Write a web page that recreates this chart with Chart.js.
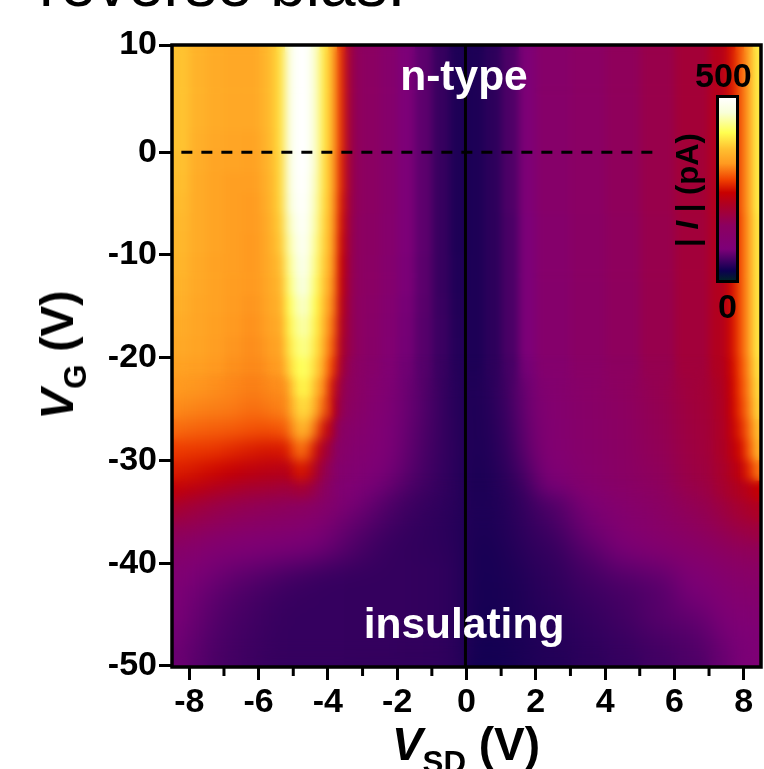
<!DOCTYPE html>
<html>
<head>
<meta charset="utf-8">
<title>reverse bias</title>
<script src="https://cdn.jsdelivr.net/npm/chart.js@4"></script>
<style>
  html, body { margin: 0; padding: 0; background: #fff; overflow: hidden; }
  #wrap { position: relative; width: 764px; height: 769px; overflow: hidden; font-family: "Liberation Sans", Arial, sans-serif; }
  canvas { position: absolute; left: 0; top: 0; }
  .txt { position: absolute; white-space: nowrap; font-weight: bold; color: #000; line-height: 1; }
  .white { color: #fff; font-size: 42.5px; transform: translateX(-50%); }
  .rot { transform: translate(-50%, -50%) rotate(-90deg); }
  sub { font-size: 0.68em; vertical-align: baseline; position: relative; top: 0.42em; font-style: normal; }
  #cbar { position: absolute; left: 716px; top: 95px; width: 17px; height: 182px; border: 3px solid #000; }
</style>
</head>
<body>
<div id="wrap">
  <canvas id="map" width="764" height="769"></canvas>
  <div class="txt" style="left:39px; top:-48px; font-size:64px; font-weight:normal;">reverse bias.</div>
  <div class="txt white" style="left:464px; top:55px;">n-type</div>
  <div class="txt white" style="left:464px; top:603px;">insulating</div>
  <div class="txt" style="left:695px; top:58px; font-size:34px;">500</div>
  <div class="txt" style="left:718px; top:289px; font-size:34px;">0</div>
  <div class="txt rot" style="left:687px; top:190px; font-size:31px;">| <i>I</i> | (pA)</div>
  <div id="cbar"></div>
  <div class="txt rot" style="left:57px; top:355px; font-size:46px;"><i>V</i><sub>G</sub> (V)</div>
  <div class="txt" style="left:466px; top:721px; font-size:46px; transform:translateX(-50%);"><i>V</i><sub>SD</sub> (V)</div>
</div>
<script>
const xMin = -8.5, xMax = 8.5;
const yMin = -50.1, yMax = 10.43;

const xTicks = [-8, -6, -4, -2, 0, 2, 4, 6, 8];
const xMinorTicks = [-7, -5, -3, -1, 1, 3, 5, 7];
const yTicks = [10, 0, -10, -20, -30, -40, -50];

// column edges in V, finer around the bright peak and the right edge
const vsdEdges = [-8.5, -8, -7.5, -7, -6.5, -6, -5.75, -5.5, -5.25, -5, -4.75, -4.5, -4.25, -4, -3.75, -3.5, -3.25, -3,
  -2.5, -2, -1.5, -1, -0.5, 0, 0.5, 1, 1.5, 2, 3, 4, 5, 6, 7, 7.5, 7.75, 8, 8.25, 8.5];

// row centres in V
const vgRows = [11, 9, 7, 5, 3, 1, -1, -3, -5, -7, -9, -11, -13, -15, -17, -19, -21, -23, -25, -27, -29, -31, -33, -35,
  -37, -39, -41, -43, -45, -47, -49];

// |I| in pA, one row per vgRows entry, one value per column
const current = [
  [362,345,338,335,335,345,360, 385,470,500,500,455,390,340,265, 180,152,145,120,85,68,48,34, 34,42,60,90,125,140,155,170,188,215,250,285,325,395],
  [362,345,338,335,335,345,360, 385,470,500,500,455,390,340,265, 180,152,145,120,85,68,48,34, 34,42,60,90,125,140,155,170,188,215,250,285,325,395],
  [362,345,338,335,335,345,360, 385,470,500,500,455,390,340,265, 180,152,145,120,85,68,48,34, 34,42,60,90,125,140,155,170,188,215,250,285,325,395],
  [362,345,338,335,335,345,360, 385,470,500,500,455,390,340,265, 180,152,145,120,85,68,48,34, 34,42,60,90,125,140,155,170,188,215,250,285,325,395],
  [362,345,338,335,335,345,360, 385,470,500,500,455,390,340,265, 180,152,145,120,85,68,48,34, 34,42,60,90,125,140,155,170,188,215,250,285,325,395],
  [362,342,335,332,330,342,358, 385,470,500,500,455,390,340,265, 180,152,145,120,85,68,48,34, 34,42,60,90,125,140,155,170,188,215,250,285,325,395],
  [360,340,332,330,328,340,355, 380,468,500,500,455,385,335,260, 178,152,145,120,85,68,48,34, 34,42,60,90,125,140,155,170,188,215,250,285,325,395],
  [358,338,330,325,325,338,352, 380,465,498,498,450,385,335,260, 178,152,145,120,85,68,48,34, 34,42,60,90,125,140,155,170,188,215,250,285,325,395],
  [355,338,330,325,322,335,350, 378,460,495,495,445,382,332,255, 175,152,145,120,85,68,48,34, 34,42,60,90,125,140,155,170,188,215,250,285,325,395],
  [352,338,330,325,322,332,348, 372,450,490,490,440,378,328,250, 172,150,142,118,85,68,48,34, 34,42,58,85,120,138,153,168,186,212,245,280,320,390],
  [350,338,330,325,320,330,345, 368,440,482,485,432,375,325,245, 170,150,142,118,85,68,48,34, 34,42,58,85,120,138,153,168,186,212,245,280,320,390],
  [348,336,328,325,320,330,342, 360,430,472,476,425,370,320,240, 168,150,140,115,84,67,48,35, 34,42,58,85,120,138,153,168,186,212,245,280,320,390],
  [345,335,328,323,320,328,340, 352,420,460,465,415,365,315,235, 166,150,140,115,84,67,48,35, 34,42,58,85,120,138,153,168,186,212,245,280,320,390],
  [342,333,328,322,318,326,338, 345,408,448,452,405,358,308,225, 165,148,135,110,82,66,49,36, 34,42,58,85,120,138,153,168,186,212,245,280,320,390],
  [338,332,326,320,316,322,334, 338,398,435,440,398,350,298,215, 165,148,132,108,81,65,50,37, 34,42,58,85,120,138,153,168,186,212,245,280,320,390],
  [335,330,324,318,314,318,328, 330,388,422,428,390,340,288,205, 165,148,130,105,80,65,50,38, 34,42,58,85,120,138,153,168,186,212,245,280,320,390],
  [328,325,320,315,312,314,322, 322,375,408,412,378,325,272,195, 155,140,125,100,78,64,49,38, 34,42,56,82,116,135,150,165,185,210,242,275,315,385],
  [320,318,314,310,306,308,314, 312,350,392,398,358,310,255,185, 150,132,118,98,77,63,48,38, 34,41,54,80,113,132,149,164,184,209,240,272,310,380],
  [312,308,306,304,298,300,306, 305,330,375,385,338,295,238,175, 145,125,112,95,76,62,48,38, 33,40,52,78,110,130,148,162,182,208,238,268,305,375],
  [296,292,290,288,284,282,284, 285,305,345,350,300,245,195,150, 132,115,105,90,74,60,48,39, 33,39,50,75,108,128,145,160,180,206,232,258,295,360],
  [272,270,268,262,256,252,252, 250,268,300,295,245,195,160,135, 122,108,100,88,72,58,48,40, 33,38,48,72,105,125,143,158,178,205,225,245,285,345],
  [256,250,244,236,228,222,222, 215,225,255,250,205,165,140,120, 110,100,92,82,68,56,47,40, 32,36,45,62,95,120,138,155,175,200,215,228,260,300],
  [232,224,212,202,194,190,190, 182,185,195,190,170,148,125,108, 98,90,82,72,60,52,46,40, 32,35,42,52,80,112,132,150,170,195,205,212,222,240],
  [195,182,172,165,160,156,155, 153,150,148,145,135,125,112,102, 92,85,72,60,52,46,44,40, 32,34,40,47,60,90,118,140,160,180,190,196,205,212],
  [155,135,122,112,105,103,100, 100,98,95,92,90,85,78,72, 66,60,54,48,45,43,42,40, 31,33,38,44,50,75,98,120,140,160,168,172,176,180],
  [122,105,95,92,88,85,84, 82,82,82,80,78,74,70,66, 62,58,52,47,46,45,44,42, 30,32,36,42,46,62,82,102,120,140,148,152,155,155],
  [100,88,78,72,67,64,62, 58,56,54,52,50,48,47,47, 46,46,46,46,46,45,44,42, 30,32,34,38,44,55,65,72,95,115,125,130,135,135],
  [90,76,68,62,57,54,52, 50,49,48,48,47,47,47,47, 46,46,46,46,46,45,44,42, 29,31,33,36,42,50,56,62,82,100,108,112,118,120],
  [84,72,64,58,54,51,49, 48,47,47,47,47,47,47,47, 46,46,46,46,46,45,44,42, 29,30,32,35,40,46,54,66,72,88,95,100,104,105],
  [80,68,60,55,52,50,48, 47,47,47,47,47,47,47,47, 46,46,46,46,45,45,44,42, 28,30,32,34,38,44,50,58,64,78,84,88,90,92],
  [76,65,58,54,51,49,48, 47,47,47,47,47,47,47,47, 46,46,46,46,45,45,44,42, 28,29,31,34,37,42,47,53,60,72,78,84,88,92]
];

// colour scale
const scaleValues = [0, 25, 85, 150, 210, 240, 275, 320, 360, 405, 460, 500];
const scaleColors = ['#00202a', '#0c0050', '#7d0078', '#8c0060', '#b00020', '#c80000', '#f04000', '#ff9a20', '#ffc030', '#ffff50', '#f8ffd8', '#ffffff'];

function hexToRgb(h) {
  return [1, 3, 5].map(i => parseInt(h.substr(i, 2), 16));
}

function colorFor(v) {
  let i = 0;
  while (i < scaleValues.length - 2 && v > scaleValues[i + 1]) i++;
  const t = Math.min(1, Math.max(0, (v - scaleValues[i]) / (scaleValues[i + 1] - scaleValues[i])));
  const a = hexToRgb(scaleColors[i]), b = hexToRgb(scaleColors[i + 1]);
  return 'rgb(' + a.map((c, k) => Math.round(c + (b[k] - c) * t)).join(',') + ')';
}

// one bar dataset per column, each bar a floating range along VSD
const cellSets = vsdEdges.slice(0, -1).map((lo, c) => ({
  type: 'bar',
  indexAxis: 'y',
  order: 1,
  data: vgRows.map(v => ({ x: [lo, vsdEdges[c + 1]], y: v })),
  backgroundColor: current.map(row => colorFor(row[c])),
  borderWidth: 0,
  barPercentage: 1,
  categoryPercentage: 1,
  grouped: false
}));

const lineSets = [
  {
    type: 'line', order: 0,
    data: [{ x: -8.23, y: 0 }, { x: 5.45, y: 0 }],
    borderColor: '#000', borderWidth: 3, borderDash: [11, 9], pointRadius: 0
  },
  {
    type: 'line', order: 0,
    data: [{ x: -0.03, y: yMin }, { x: -0.03, y: yMax }],
    borderColor: '#000', borderWidth: 3, pointRadius: 0
  }
];

// the reference is a smooth contour map, so soften the cell steps just before the lines go on.
// each pass is [vsd from, vsd to, vg top, vg bottom, blur px]; the lower half has the coarsest steps
const blurPasses = [
  [xMin, xMax, yMax, yMin, 4],
  [-5.6, -3.9, -24, -38, 4],
  [-8.5, -5.3, -22, -38, 7],
  [-3.6, 7.2, -22, -38, 10],
  [xMin, xMax, -34, yMin, 12]
];

let smoothed = false;
const smoothPlugin = {
  id: 'smooth',
  beforeDatasetsDraw() { smoothed = false; },
  beforeDatasetDraw(chart, args) {
    if (smoothed || args.meta.type !== 'line') return;
    smoothed = true;
    const a = chart.chartArea, ctx = chart.ctx;
    blurPasses.forEach(([x0, x1, y0, y1, px]) => {
      const l = chart.scales.x.getPixelForValue(x0), r = chart.scales.x.getPixelForValue(x1);
      const t = chart.scales.y.getPixelForValue(y0), b = chart.scales.y.getPixelForValue(y1);
      ctx.save();
      ctx.beginPath();
      ctx.rect(a.left, a.top, a.right - a.left, a.bottom - a.top);
      ctx.clip();
      ctx.filter = 'blur(' + px + 'px)';
      ctx.drawImage(chart.canvas, l, t, r - l, b - t, l, t, r - l, b - t);
      ctx.restore();
    });
  }
};

const framePlugin = {
  id: 'frame',
  afterDraw(chart) {
    const a = chart.chartArea, ctx = chart.ctx;
    ctx.save();
    ctx.strokeStyle = '#000';
    ctx.lineWidth = 3.5;
    ctx.strokeRect(a.left, a.top, a.right - a.left, a.bottom - a.top);
    ctx.lineWidth = 3;
    xMinorTicks.forEach(v => {
      const px = chart.scales.x.getPixelForValue(v);
      ctx.beginPath();
      ctx.moveTo(px, a.bottom);
      ctx.lineTo(px, a.bottom + 9);
      ctx.stroke();
    });
    ctx.restore();
  }
};

const tickFont = { family: '"Liberation Sans", Arial, sans-serif', size: 34, weight: 'bold' };
const tickGrid = { drawOnChartArea: false, drawTicks: true, tickLength: 13, tickWidth: 3, tickColor: '#000', offset: false };

new Chart(document.getElementById('map').getContext('2d'), {
  data: { datasets: [...lineSets, ...cellSets] },
  plugins: [smoothPlugin, framePlugin],
  options: {
    responsive: false,
    animation: false,
    layout: { padding: { left: 0, top: 45, right: 3, bottom: 0 } },
    plugins: { legend: { display: false }, tooltip: { enabled: false } },
    scales: {
      x: {
        type: 'linear', min: xMin, max: xMax, offset: false,
        grid: tickGrid,
        border: { display: false },
        afterBuildTicks: axis => { axis.ticks = xTicks.map(v => ({ value: v })); },
        afterFit: axis => { axis.height = 102; },
        ticks: { color: '#000', font: tickFont, padding: 2, maxRotation: 0, autoSkip: false }
      },
      y: {
        type: 'linear', min: yMin, max: yMax, offset: false,
        grid: tickGrid,
        border: { display: false },
        afterBuildTicks: axis => { axis.ticks = yTicks.map(v => ({ value: v === 10 ? yMax : v })); },
        afterFit: axis => { axis.width = 172; },
        ticks: { color: '#000', font: tickFont, padding: 2, autoSkip: false, callback: v => Math.round(v / 10) * 10 }
      }
    }
  }
});

// colour bar legend, same stops as the map
const stops = scaleValues.map((v, i) => scaleColors[i] + ' ' + (v / 5) + '%').join(',');
document.getElementById('cbar').style.background = 'linear-gradient(to top,' + stops + ')';
</script>
</body>
</html>
